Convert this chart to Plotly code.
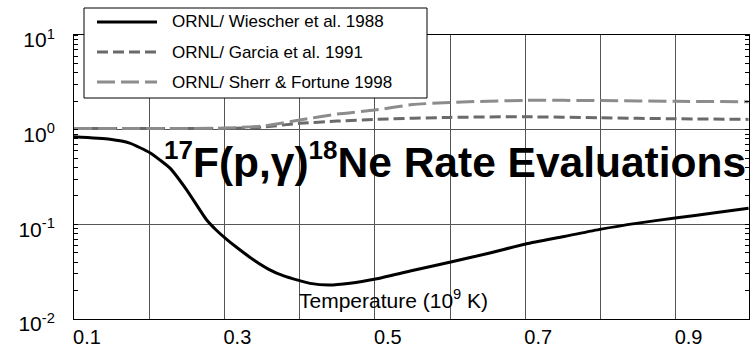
import plotly.graph_objects as go

# ---- data ----
series_names = ["ORNL/ Wiescher et al. 1988", "ORNL/ Garcia et al. 1991", "ORNL/ Sherr & Fortune 1998"]

temp_wiescher = [0.100, 0.148, 0.174, 0.201, 0.214, 0.228, 0.250, 0.2765, 0.289, 0.303, 0.317, 0.339,
                 0.359, 0.379, 0.414, 0.439, 0.467, 0.501, 0.547, 0.601, 0.653, 0.701, 0.752, 0.801,
                 0.850, 0.902, 0.950, 0.997]
rate_wiescher = [0.84, 0.79, 0.72, 0.57, 0.48, 0.39, 0.230, 0.111, 0.0871, 0.0693, 0.0565, 0.042,
                 0.0335, 0.0285, 0.0238, 0.0228, 0.0238, 0.0264, 0.0321, 0.040, 0.0498, 0.062, 0.0744,
                 0.089, 0.103, 0.1175, 0.1315, 0.1476]

temp_garcia = [0.1, 0.2, 0.3, 0.35, 0.4, 0.45, 0.5, 0.6, 0.7, 0.8, 0.9, 0.997]
rate_garcia = [1.027, 1.027, 1.03, 1.065, 1.166, 1.233, 1.284, 1.348, 1.368, 1.336, 1.303, 1.284]

temp_sherr = [0.1, 0.2, 0.3, 0.35, 0.4, 0.45, 0.5, 0.55, 0.6, 0.7, 0.8, 0.9, 0.997]
rate_sherr = [1.027, 1.027, 1.04, 1.09, 1.262, 1.46, 1.61, 1.84, 1.94, 2.04, 2.03, 1.995, 1.97]

x_tick_vals = [0.1, 0.3, 0.5, 0.7, 0.9]
x_tick_text = ["0.1", "0.3", "0.5", "0.7", "0.9"]
y_tick_vals = [0.01, 0.1, 1, 10]
y_tick_text = ["10<sup>-2</sup>", "10<sup>-1</sup>", "10<sup>0</sup>", "10<sup>1</sup>"]

title_text = ("<b><sup><span style='font-size:26px'>17</span></sup>F(p,γ)"
              "<sup><span style='font-size:26px'>18</span></sup>Ne Rate Evaluations</b>")
x_title_text = "Temperature (10<sup>9</sup> K)"

# ---- styles ----
FONT = "Liberation Sans, Arial, Helvetica, sans-serif"
colors = ["#000000", "#6a6a6a", "#8c8c8c"]
dashes = ["solid", "11px,5px", "18px,6px"]
W, H = 750, 352
L, R, T, B = 74, 1, 35, 33
PW, PH = W - L - R, H - T - B


def px_x(p):
    return (p - L) / PW


def px_y(p):
    return (H - B - p) / PH


fig = go.Figure()
series = [(temp_wiescher, rate_wiescher), (temp_garcia, rate_garcia), (temp_sherr, rate_sherr)]
for (xs, ys), name, c, d in zip(series, series_names, colors, dashes):
    fig.add_trace(go.Scatter(x=xs, y=ys, mode="lines", name=name,
                             line=dict(color=c, width=3, dash=d, shape="spline", smoothing=0.6),
                             showlegend=False))

shapes = []
annotations = []
# manual legend box
shapes.append(dict(type="rect", xref="paper", yref="paper",
                   x0=px_x(84), x1=px_x(427), y0=px_y(98), y1=px_y(8),
                   line=dict(color="black", width=1), fillcolor="white", layer="above"))
row_y = [22, 52, 82]
for ry, name, c, d in zip(row_y, series_names, colors, dashes):
    shapes.append(dict(type="line", xref="paper", yref="paper",
                       x0=px_x(97), x1=px_x(157), y0=px_y(ry), y1=px_y(ry),
                       line=dict(color=c, width=3, dash=d), layer="above"))
    annotations.append(dict(xref="paper", yref="paper", x=px_x(170), y=px_y(ry),
                            xanchor="left", yanchor="middle", showarrow=False, text=name,
                            font=dict(family=FONT, size=17, color="black")))

annotations.append(dict(xref="paper", yref="paper", x=px_x(162), y=px_y(160),
                        xanchor="left", yanchor="middle", showarrow=False, text=title_text,
                        font=dict(family=FONT, size=42.5, color="black")))
annotations.append(dict(xref="paper", yref="paper", x=px_x(393), y=px_y(299),
                        xanchor="center", yanchor="middle", showarrow=False, text=x_title_text,
                        font=dict(family=FONT, size=21, color="black")))

fig.update_layout(
    width=W, height=H,
    margin=dict(l=L, r=R, t=T, b=B, autoexpand=False),
    paper_bgcolor="white", plot_bgcolor="white",
    font=dict(family=FONT, color="black"),
    shapes=shapes, annotations=annotations,
    showlegend=False,
)
fig.update_xaxes(range=[0.1, 0.1 + PW / 752], tickvals=x_tick_vals, ticktext=x_tick_text,
                 showgrid=True, gridcolor="#555555", gridwidth=1, ticks="",
                 minor=dict(tick0=0.1, dtick=0.1, showgrid=True, gridcolor="#555555", gridwidth=1, ticks=""),
                 showline=True, linecolor="black", linewidth=1, mirror=True, automargin=False,
                 zeroline=False, tickfont=dict(size=20, color="black"),
                 ticklabelshift=13, ticklabelstandoff=0)
fig.update_yaxes(type="log", range=[-2, 1], tickvals=y_tick_vals, ticktext=y_tick_text,
                 showgrid=True, gridcolor="#555555", gridwidth=1, ticks="",
                 showline=True, linecolor="black", linewidth=1, mirror="ticks", automargin=False,
                 zeroline=False, tickfont=dict(size=21, color="black"),
                 ticklabelstandoff=14, ticklabelshift=5,
                 minor=dict(ticks="inside", ticklen=4, tickcolor="black", dtick="D1", showgrid=False))

fig.write_html("out.html",
               config={"displayModeBar": False},
               post_script="document.body.style.margin='0px';document.body.style.overflow='hidden';")
